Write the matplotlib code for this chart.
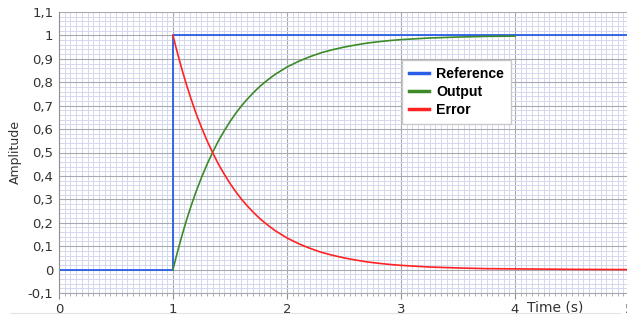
import matplotlib.pyplot as plt
from matplotlib.font_manager import FontProperties
from matplotlib.ticker import MultipleLocator, FuncFormatter

# step reference
ref_t = [0.0, 1.0, 1.0, 5.0]
ref_y = [0.0, 0.0, 1.0, 1.0]

# output / error
t_vals = [1.0, 1.025, 1.05, 1.075, 1.1, 1.125, 1.15, 1.175, 1.2, 1.25, 1.3, 1.35,
          1.4, 1.45, 1.5, 1.55, 1.6, 1.65, 1.7, 1.75, 1.8, 1.85, 1.9, 1.95, 2.0,
          2.1, 2.2, 2.3, 2.4, 2.5, 2.6, 2.7, 2.8, 2.9, 3.0, 3.25, 3.5, 3.75, 4.0]
error = [1.0, 0.951, 0.905, 0.861, 0.819, 0.779, 0.741, 0.705, 0.670, 0.607,
         0.549, 0.497, 0.449, 0.407, 0.368, 0.333, 0.301, 0.273, 0.247, 0.223,
         0.202, 0.183, 0.165, 0.150, 0.135, 0.111, 0.091, 0.074, 0.061, 0.050,
         0.041, 0.033, 0.027, 0.022, 0.018, 0.011, 0.007, 0.004, 0.003]
output = [0.0, 0.049, 0.095, 0.139, 0.181, 0.221, 0.259, 0.295, 0.330, 0.393,
          0.451, 0.503, 0.551, 0.593, 0.632, 0.667, 0.699, 0.727, 0.753, 0.777,
          0.798, 0.817, 0.835, 0.850, 0.865, 0.889, 0.909, 0.926, 0.939, 0.950,
          0.959, 0.967, 0.973, 0.978, 0.982, 0.989, 0.993, 0.996, 0.997]
err_tail_t = [4.5, 5.0]
err_tail = [0.001, 0.0]

BLUE = '#2a5ee8'
GREEN = '#3c8a28'
RED = '#ff2222'

fig = plt.figure(figsize=(6.27, 3.2), dpi=100)
ax = fig.add_axes([59 / 627, 27 / 320, 570 / 627, 281 / 320])

ax.set_xlim(0, 5)
ax.set_ylim(-0.1, 1.1)

ax.xaxis.set_major_locator(MultipleLocator(1))
ax.xaxis.set_minor_locator(MultipleLocator(0.05))
ax.yaxis.set_major_locator(MultipleLocator(0.1))
ax.yaxis.set_minor_locator(MultipleLocator(0.02))

ax.grid(True, which='minor', color='#d4d8ee', linewidth=0.7)
ax.grid(True, which='major', color='#a8a8b0', linewidth=0.8)
ax.set_axisbelow(True)

ax.plot(ref_t, ref_y, color=BLUE, linewidth=1.3, label='Reference')
ax.plot(t_vals, output, color=GREEN, linewidth=1.2, label='Output')
ax.plot(t_vals + err_tail_t, error + err_tail, color=RED, linewidth=1.2, label='Error')

def comma(v, pos):
    s = f'{v:.1f}'.rstrip('0').rstrip('.')
    if s == '-0':
        s = '0'
    return s.replace('.', ',')

ax.yaxis.set_major_formatter(FuncFormatter(comma))
ax.xaxis.set_major_formatter(FuncFormatter(lambda v, p: f'{int(round(v))}'))

for s in ['top', 'right']:
    ax.spines[s].set_visible(False)
ax.spines['left'].set_color('#909090')
ax.spines['bottom'].set_color('#a8a8b0')

ax.tick_params(axis='y', which='both', length=0, labelsize=9.5, colors='#333333', pad=4)
ax.tick_params(axis='x', which='major', length=4, color='#909090', labelsize=9.5,
               labelcolor='#333333', pad=3)
ax.tick_params(axis='x', which='minor', length=2, color='#a0a0a0')

ax.set_ylabel('Amplitude', fontsize=9, color='#333333', labelpad=4)
ax.text(4.35, -0.16, 'Time (s)', fontsize=10, color='#333333', ha='center', va='center',
        transform=ax.transData, clip_on=False,
        bbox=dict(facecolor='white', edgecolor='none', pad=1))

# faint separator line under the axis labels
fig.add_artist(plt.Line2D([10 / 627, 620 / 627], [7 / 320, 7 / 320],
                          color='#e4e4e4', linewidth=0.8))

leg_font = FontProperties(family='Liberation Sans', weight='bold', size=10.2)
leg = ax.legend(loc='upper left', bbox_to_anchor=(0.59, 0.855), frameon=True,
                fancybox=False, edgecolor='#c8c8c8', framealpha=1,
                prop=leg_font, handlelength=1.4, handletextpad=0.5,
                borderpad=0.5, labelspacing=0.3)
for line in leg.get_lines():
    line.set_linewidth(2.5)

fig.savefig('out.png', dpi=100)
